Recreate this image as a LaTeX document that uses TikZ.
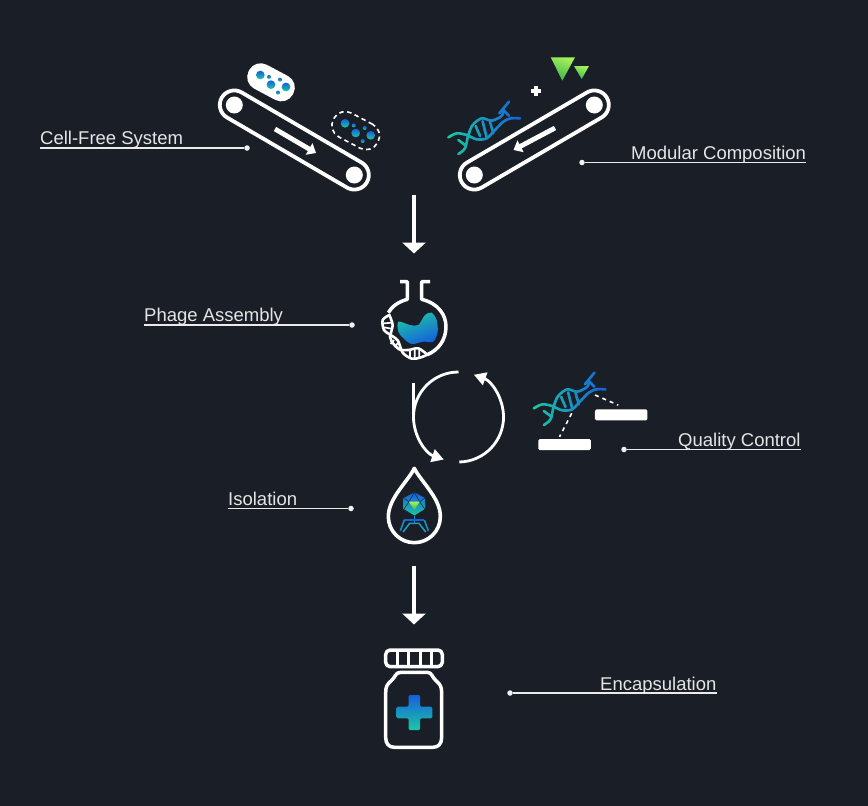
\documentclass[tikz,border=0pt]{standalone}
\usepackage{fontspec}
\setmainfont{Liberation Sans}
\usetikzlibrary{positioning,arrows.meta,backgrounds,calc}

\definecolor{nightbg}{HTML}{1A1E27}
\definecolor{gradteal}{HTML}{1CC8A4}
\definecolor{gradblue}{HTML}{1560DC}
\definecolor{limetop}{HTML}{A6F05A}
\definecolor{limebot}{HTML}{3DB44E}

% one helix, drawn in the coordinates of its own 3x frame
\newcommand{\helixpath}{
  \draw plot[smooth] coordinates {(25,262) (50,250) (80,255) (110,268) (140,265) (165,240) (190,215) (212,205) (240,205)};
  \draw plot[smooth] coordinates {(55,312) (75,295) (85,255) (98,225) (125,205) (155,212) (185,198) (190,180)};
  \draw (178,190) -- (207,155) (190,180) -- (207,197);
  \draw (55,270) -- (75,285) (107,228) -- (120,258) (128,214) -- (140,262) (150,215) -- (160,250);
}
\newcommand{\helix}[2]{
  \begin{scope}[shift={(#1,#2)}, scale=1/3, line width=2.6pt, line cap=round]
    \foreach \s in {0,...,22} {
      \pgfmathtruncatemacro{\p}{\s*100/22}
      \begin{scope}
        \clip (20+\s*10,140) rectangle (31.5+\s*10,320);
        \begin{scope}[draw=gradblue!\p!gradteal]
          \helixpath
        \end{scope}
      \end{scope}
    }
  \end{scope}
}
% pill with its six dots
\newcommand{\celldots}[2]{
  \begin{scope}[shift={(#1,#2)}, scale=1/3]
    \foreach \dx/\dy/\dr in {151/75/13, 177/81/6, 183/104/13, 210/89/6, 228/111/13, 204/128/6}
      \shade[top color=gradblue, bottom color=gradteal] (\dx,\dy) circle[radius=\dr];
  \end{scope}
}

\tikzset{
  x=1pt, y=-1pt,
  tag/.style={font=\fontsize{18.5}{18.5}\selectfont, text=black!10, inner sep=0pt, anchor=base west},
  leader/.style={draw=black!8, line width=1.2pt},
  dot/.style={circle, fill=black!5, inner sep=0pt, minimum size=5.5pt},
  belt/.style={draw=white, line width=3.8pt, rounded corners=14.5pt, minimum width=168pt, minimum height=29pt, inner sep=0pt},
  roller/.style={circle, fill=white, inner sep=0pt, minimum size=17pt},
  pill/.style={rounded corners=13pt, minimum width=50pt, minimum height=27pt, inner sep=0pt, rotate=-28},
  beltarrow/.style={draw=white, line width=4.8pt, -{Triangle[width=13pt,length=8pt]}},
  bigarrow/.style={draw=white, line width=3.4pt, -{Triangle[width=23pt,length=11pt]}},
  cyclearrow/.style={draw=white, line width=2.8pt, -{Triangle[width=13pt,length=12pt]}},
  icon/.style={draw=white, line width=3.5pt, line join=round},
  strip/.style={fill=white, rounded corners=1.5pt, inner sep=0pt, minimum width=52.5pt, minimum height=11pt},
  dashlink/.style={draw=white, line width=1.6pt, dash pattern=on 4pt off 4pt}
}

\begin{document}
\begin{tikzpicture}
\path[use as bounding box, fill=nightbg] (0,0) rectangle (868,806);

% labels and their leaders
\node[tag] (cellfree) at (40,144) {Cell-Free System};
\node[dot] (cellfreedot) at (247,148) {};
\draw[leader] (cellfreedot) -- (cellfreedot -| cellfree.west);
\node[tag] (modular) at (631,159) {Modular Composition};
\node[dot] (modulardot) at (582,162.5) {};
\draw[leader] (modulardot) -- (modulardot -| modular.east);
\node[tag] (assembly) at (144,321) {Phage Assembly};
\node[dot] (assemblydot) at (352,325) {};
\draw[leader] (assemblydot) -- (assemblydot -| assembly.west);
\node[tag] (quality) at (678,446) {Quality Control};
\node[dot] (qualitydot) at (624,449.5) {};
\draw[leader] (qualitydot) -- (qualitydot -| quality.east);
\node[tag] (isolation) at (228,505) {Isolation};
\node[dot] (isolationdot) at (351,508.5) {};
\draw[leader] (isolationdot) -- (isolationdot -| isolation.west);
\node[tag] (encaps) at (600,690) {Encapsulation};
\node[dot] (encapsdot) at (510,693) {};
\draw[leader] (encapsdot) -- (encapsdot -| encaps.east);

% left conveyor
\node[belt, rotate=-30.3] (beltleft) at (294.3,140) {};
\node[roller] (rollerla) at (234.3,105) {};
\node[roller] (rollerlb) at (354.3,175) {};
\coordinate (arrowla) at (275,129);
\coordinate (arrowlb) at (316,153);
\draw[beltarrow] (arrowla) -- (arrowlb);
\node[pill, fill=white] (cellfull) at (271,82.3) {};
\celldots{210}{50}
\node[pill, draw=white, line width=1.6pt, dash pattern=on 4.5pt off 3.5pt] (cellempty) at (355.7,130.6) {};
\celldots{294.7}{98.3}

% right conveyor
\node[belt, rotate=30.3] (beltright) at (534.3,140) {};
\node[roller] (rollerra) at (594.3,105) {};
\node[roller] (rollerrb) at (474.3,175) {};
\coordinate (arrowra) at (555,128);
\coordinate (arrowrb) at (513.5,150);
\draw[beltarrow] (arrowra) -- (arrowrb);
\helix{440}{50}
\draw[white, line width=3.4pt] (530.7,91) -- (541.3,91) (536,85.7) -- (536,96.3);
\shade[top color=limetop, bottom color=limebot, shading angle=-20] (550.7,57.3) -- (575,57.3) -- (562.3,80.7) -- cycle;
\shade[top color=limetop, bottom color=limebot, shading angle=-20] (574,66) -- (589,66) -- (581.7,79) -- cycle;

% downward arrows
\coordinate (arrowta) at (414,195);
\coordinate (arrowtb) at (414,253.5);
\draw[bigarrow] (arrowta) -- (arrowtb);
\coordinate (arrowua) at (414,566);
\coordinate (arrowub) at (414,624.5);
\draw[bigarrow] (arrowua) -- (arrowub);

% flask
\begin{scope}[shift={(370,270)}, scale=1/3]
  \shade[left color=gradteal, right color=gradblue, shading angle=20] plot[smooth cycle, tension=0.5] coordinates {(85,155) (120,165) (145,165) (165,135) (185,128) (200,150) (203,185) (190,215) (160,215) (125,222) (100,205) (85,185)};
  \draw[icon] (90,35) -- (112,35) -- (112,88) .. controls (85,95) and (65,110) .. (55,128);
  \draw[icon] (180,35) -- (155,35) -- (155,88) .. controls (205,100) and (228,135) .. (228,170) .. controls (228,210) and (205,240) .. (172,254);
  \draw[draw=white, line width=2.6pt, line cap=round] plot[smooth] coordinates {(58,135) (38,150) (42,180) (65,197) (84,212) (98,248) (125,266) (150,263) (172,254)};
  \draw[draw=white, line width=2.6pt, line cap=round] plot[smooth] coordinates {(58,135) (68,165) (60,200) (65,215) (88,238) (115,240) (145,235) (172,254)};
  \draw[draw=white, line width=1.7pt] (42,160) -- (66,158) (42,172) -- (64,176) (72,210) -- (62,222) (84,218) -- (74,232) (120,240) -- (120,262) (134,238) -- (134,265) (148,238) -- (148,262);
\end{scope}

% cycle
\coordinate (cyclecentre) at (458.5,417);
\draw[cyclearrow] ($(cyclecentre)+(0,-45)$) arc[start angle=-90, end angle=-251, radius=45];
\draw[cyclearrow] ($(cyclecentre)+(0.8,45)$) arc[start angle=89, end angle=-70, radius=45];
\coordinate (stuba) at (413.3,383);
\coordinate (stubb) at (413.3,417);
\draw[white, line width=2.4pt] (stuba) -- (stubb);

% quality control
\helix{525.5}{321}
\node[strip] (stripa) at (621.2,414.8) {};
\node[strip] (stripb) at (564.5,444.5) {};
\coordinate (helixa) at (595,395);
\coordinate (helixb) at (571.7,413.3);
\draw[dashlink] (helixa) -- ($(stripa.north)+(-3,-4)$);
\draw[dashlink] (helixb) -- ($(stripb.north)+(-5,-2)$);

% drop with phage
\begin{scope}[shift={(375,460)}, scale=1/3]
  \shade[top color=gradblue, bottom color=gradteal] (118,97) -- (150,114) -- (150,148) -- (118,168) -- (86,148) -- (86,114) -- cycle;
  \draw[nightbg, line width=0.5pt] (118,97) -- (102,125) -- (86,114) (118,97) -- (134,125) -- (150,114) (86,148) -- (102,125) (150,148) -- (134,125) (118,168) -- (86,148) (118,168) -- (150,148);
  \shade[top color=limetop, bottom color=limebot] (102,125) -- (134,125) -- (118,150) -- cycle;
  \draw[gradblue!60!gradteal, line width=1.6pt] (118,168) -- (118,192);
  \draw[gradblue, line width=1.6pt, line join=round] (118,180) -- (88,180);
  \draw[gradblue, line width=1.6pt, line join=round] (118,180) -- (148,180);
  \draw[gradblue!55!gradteal, line width=1.6pt] (88,180) -- (76,212) (148,180) -- (160,212);
  \draw[gradblue!40!gradteal, line width=1.6pt] (118,190) -- (104,190) -- (84,216) (118,190) -- (132,190) -- (152,216);
  \draw[icon, line width=3.6pt] (118,25) .. controls (98,65) and (40,115) .. (40,170) arc[start angle=180, end angle=0, radius=78] .. controls (197,115) and (138,65) .. cycle;
\end{scope}

% bottle
\begin{scope}[shift={(370,640)}, scale=1/3]
  \draw[icon, rounded corners=4.5pt] (47,30) rectangle (217,80);
  \draw[icon, line width=3pt] (82,30) -- (82,80) (115,30) -- (115,80) (150,30) -- (150,80) (183,30) -- (183,80);
  \draw[icon] (92,97) -- (172,97) .. controls (186,97) and (186,112) .. (198,122) .. controls (210,132) and (215,140) .. (215,158) -- (215,292) .. controls (215,312) and (205,322) .. (188,322) -- (74,322) .. controls (57,322) and (47,312) .. (47,292) -- (47,158) .. controls (47,140) and (52,132) .. (64,122) .. controls (76,112) and (76,97) .. cycle;
  \shade[top color=gradblue, bottom color=gradteal, rounded corners=1.2pt] (116,165) -- (150,165) -- (150,200) -- (187,200) -- (187,235) -- (150,235) -- (150,270) -- (116,270) -- (116,235) -- (80,235) -- (80,200) -- (116,200) -- cycle;
\end{scope}
\end{tikzpicture}
\end{document}
